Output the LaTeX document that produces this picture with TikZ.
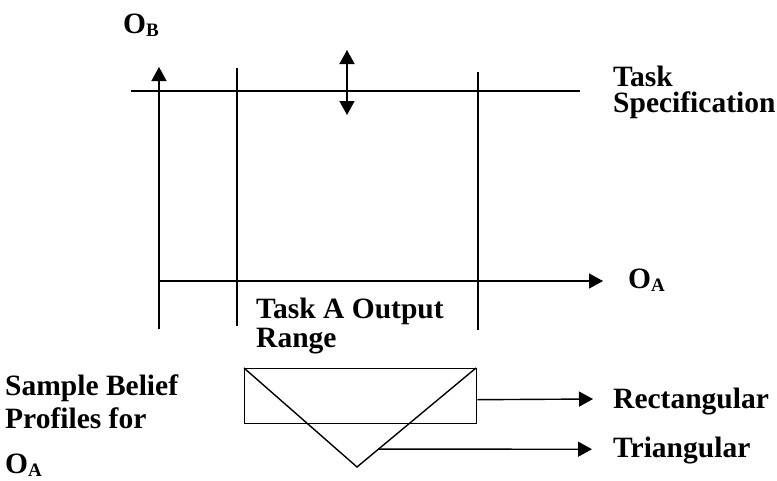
\documentclass[tikz,border=0pt]{standalone}
\usepackage{fontspec}
\setmainfont{Liberation Serif}
\usetikzlibrary{arrows.meta,calc,positioning}
\definecolor{BeliefInk}{HTML}{000000}
\definecolor{BeliefPaper}{HTML}{FFFFFF}
\newcommand{\lowidx}[1]{\raisebox{-3.5pt}{\fontsize{19}{20}\selectfont #1}}

\begin{document}
\begin{tikzpicture}[x=1pt,y=-1pt,
    inkline/.style={BeliefInk,line width=1.4pt},
    inkarrow/.style={inkline,-{Triangle[length=14pt,width=15pt]}},
    lbl/.style={anchor=base west,inner sep=0pt,text=BeliefInk,align=left,
      font=\bfseries\fontsize{29.5}{29}\selectfont}]
  \fill[BeliefPaper] (0,0) rectangle (777,480);
  \useasboundingbox (0,0) rectangle (777,480);

  % axes and output range limits
  \coordinate (orig) at (159,281);
  \coordinate (obtip) at (159,67);
  \coordinate (obfoot) at (159,329);
  \coordinate (oatip) at (603,281);
  \draw[inkarrow] (obfoot) -- (obtip);
  \draw[inkarrow] (orig) -- (oatip);
  \coordinate (lowtop) at (237,68);
  \coordinate (lowfoot) at (237,326);
  \coordinate (hightop) at (478,72);
  \coordinate (highfoot) at (478,330);
  \draw[inkline] (lowtop) -- (lowfoot);
  \draw[inkline] (hightop) -- (highfoot);

  % task specification
  \coordinate (specleft) at (131,91);
  \coordinate (specright) at (580,91);
  \draw[inkline] (specleft) -- (specright);
  \coordinate (specup) at (347,50);
  \coordinate (specdown) at (347,115);
  \draw[inkline,{Triangle[length=14pt,width=15pt]}-{Triangle[length=14pt,width=15pt]}]
    (specup) -- (specdown);

  % belief profiles
  \node[draw=BeliefInk,line width=1.4pt,minimum width=232pt,minimum height=55pt,
    inner sep=0pt,anchor=north west] (rectprof) at (244,368) {};
  \coordinate (trileft) at (244,368);
  \coordinate (triright) at (476,368);
  \coordinate (triapex) at (357,467);
  \draw[inkline] (trileft) -- (triapex) -- (triright);
  \coordinate (tristart) at ($(triapex)!0.18!(triright)$);
  \coordinate (rectend) at (593,399);
  \coordinate (triend) at (592,449.2);
  \draw[inkarrow] ([yshift=-3.5pt]rectprof.east) -- (rectend);
  \draw[inkarrow] (tristart) -- (triend);

  % labels (multi-line ones sit on their last baseline)
  \node[lbl] (oblabel) at (123,33) {O\lowidx{B}};
  \node[lbl] (oalabel) at (628,288) {O\lowidx{A}};
  \node[lbl,font=\bfseries\fontsize{29.5}{26}\selectfont] (speclabel)
    at (613,112) {Task\\Specification};
  \node[lbl] (rangelabel) at (256,347) {Task A Output\\Range};
  \node[lbl,font=\bfseries\fontsize{29.5}{33}\selectfont] (samplelabel)
    at (5,428) {Sample Belief\\Profiles for};
  \node[lbl] (sampleoa) at (5,473) {O\lowidx{A}};
  \node[lbl] (rectlabel) at (613,408) {Rectangular};
  \node[lbl] (trilabel) at (613,457) {Triangular};
\end{tikzpicture}
\end{document}
